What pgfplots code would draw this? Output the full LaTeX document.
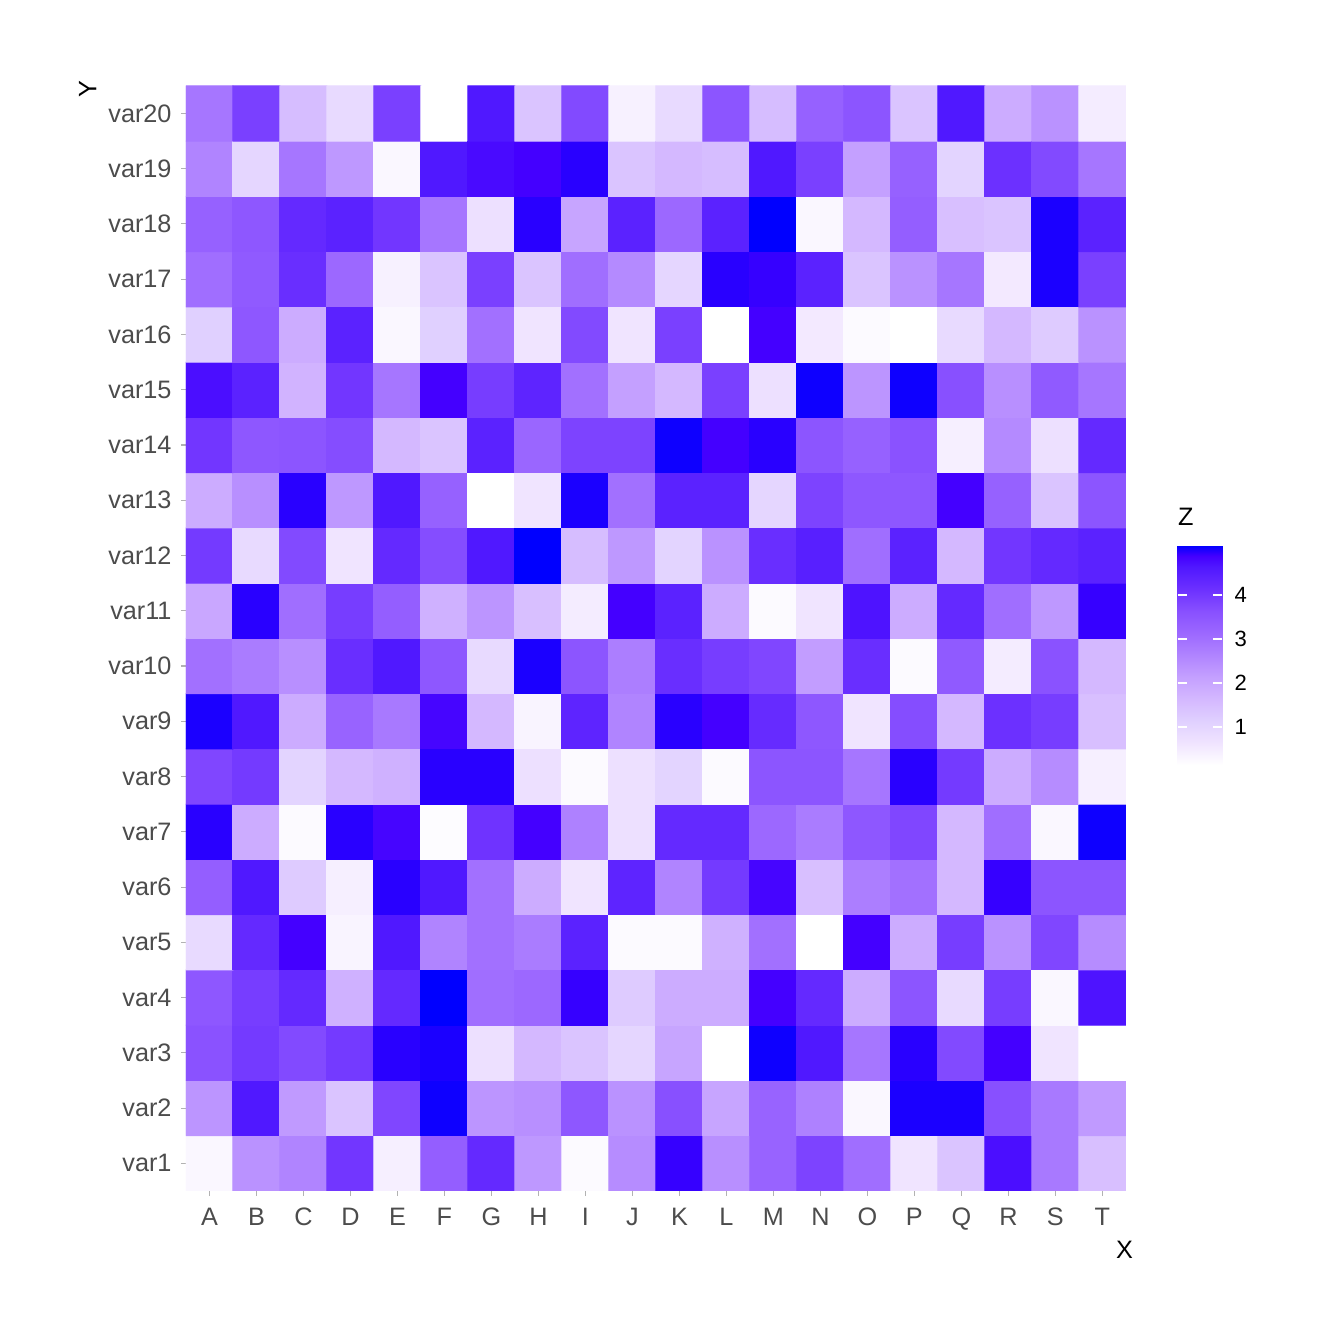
\documentclass[border=0pt]{standalone}
\usepackage{fontspec}
\setmainfont{Liberation Sans}
\usepackage{pgfplots}
\pgfplotsset{compat=1.18}

\pgfplotsset{
  colormap={whiteblue}{
    rgb255(0cm)=(255,255,255) rgb255(1cm)=(240,228,255) rgb255(2cm)=(224,208,255)
    rgb255(3cm)=(212,184,255) rgb255(4cm)=(196,160,255) rgb255(5cm)=(176,132,255)
    rgb255(6cm)=(156,104,255) rgb255(7cm)=(136,80,255) rgb255(8cm)=(108,48,255)
    rgb255(9cm)=(80,24,255) rgb255(9.5cm)=(68,0,255) rgb255(10cm)=(0,0,255)
  }
}

\begin{document}
\begin{tikzpicture}
\useasboundingbox (0,0) rectangle (505.9pt,505.9pt);
\begin{axis}[
    at={(70.0pt,57.6pt)}, anchor=south west,
    scale only axis, width=353.8pt, height=416.0pt,
    xmin=-0.5, xmax=19.5, ymin=-0.5, ymax=19.5,
    axis line style={draw=none},
    xtick={0,...,19},
    xticklabels={A,B,C,D,E,F,G,H,I,J,K,L,M,N,O,P,Q,R,S,T},
    ytick={0,...,19},
    yticklabels={var1,var2,var3,var4,var5,var6,var7,var8,var9,var10,
                 var11,var12,var13,var14,var15,var16,var17,var18,var19,var20},
    tick align=outside, major tick length=1.9pt,
    tick style={black!30, line width=0.4pt},
    xtick pos=bottom, ytick pos=left,
    ticklabel style={font=\fontsize{9.5}{11}\selectfont, text=black!70},
    xticklabel style={yshift=-1pt},
    xlabel={X}, ylabel={Y},
    label style={font=\fontsize{9.5}{11}\selectfont},
    xlabel style={at={(axis description cs:1.008,-0.045)}, anchor=north east, inner sep=0pt},
    ylabel style={at={(axis description cs:-0.0947,1.0054)}, anchor=south east, inner sep=0pt},
    colormap name=whiteblue,
    point meta min=0.14, point meta max=5.14,
    colorbar,
    colorbar/width=16.9pt,
    colorbar style={
        at={(parent axis.south east)}, anchor=south west,
        xshift=10.9pt, yshift=160.3pt,
        height=82.8pt,
        ytick={1,2,3,4},
        yticklabel pos=right, ytick pos=both,
        tick align=inside, major tick length=3.4pt,
        ytick style={white, line width=0.6pt},
        axis line style={draw=none},
        /pgf/number format/assume math mode=true,
        yticklabel style={font=\fontsize{8.3}{9}\selectfont, text=black, xshift=1.1pt},
        title={Z},
        title style={at={(0,1)}, anchor=south west, inner sep=0pt, yshift=1.2pt,
                     font=\fontsize{9.5}{11}\selectfont},
    },
]
\addplot[matrix plot*, mesh/cols=20, mesh/rows=20, point meta=explicit] coordinates {
(0,0)[0.29] (1,0)[2.39] (2,0)[2.64] (3,0)[4.04] (4,0)[0.44] (5,0)[3.34] (6,0)[4.29] (7,0)[2.29] (8,0)[0.24] (9,0)[2.49] (10,0)[4.94] (11,0)[2.44] (12,0)[3.24] (13,0)[3.84] (14,0)[3.04] (15,0)[0.64] (16,0)[1.39] (17,0)[4.74] (18,0)[2.84] (19,0)[1.49]

(0,1)[2.34] (1,1)[4.64] (2,1)[2.24] (3,1)[1.39] (4,1)[3.79] (5,1)[5.09] (6,1)[2.34] (7,1)[2.44] (8,1)[3.49] (9,1)[2.39] (10,1)[3.64] (11,1)[2.04] (12,1)[3.24] (13,1)[2.69] (14,1)[0.29] (15,1)[5.04] (16,1)[5.04] (17,1)[3.64] (18,1)[2.84] (19,1)[2.24]

(0,2)[3.59] (1,2)[3.99] (2,2)[3.74] (3,2)[3.99] (4,2)[4.99] (5,2)[5.04] (6,2)[0.74] (7,2)[1.64] (8,2)[1.39] (9,2)[0.99] (10,2)[2.04] (11,2)[0.14] (12,2)[5.09] (13,2)[4.64] (14,2)[2.89] (15,2)[4.99] (16,2)[3.74] (17,2)[4.89] (18,2)[0.64] (19,2)[0.14]

(0,3)[3.49] (1,3)[3.94] (2,3)[4.29] (3,3)[1.79] (4,3)[4.29] (5,3)[5.14] (6,3)[3.04] (7,3)[3.14] (8,3)[4.94] (9,3)[1.24] (10,3)[1.89] (11,3)[1.89] (12,3)[4.89] (13,3)[4.29] (14,3)[1.89] (15,3)[3.54] (16,3)[0.89] (17,3)[3.94] (18,3)[0.29] (19,3)[4.69]

(0,4)[0.89] (1,4)[4.29] (2,4)[4.89] (3,4)[0.34] (4,4)[4.64] (5,4)[2.64] (6,4)[2.99] (7,4)[2.79] (8,4)[4.44] (9,4)[0.24] (10,4)[0.24] (11,4)[1.79] (12,4)[2.99] (13,4)[0.14] (14,4)[4.89] (15,4)[1.89] (16,4)[3.94] (17,4)[2.39] (18,4)[3.79] (19,4)[2.49]

(0,5)[3.34] (1,5)[4.64] (2,5)[1.24] (3,5)[0.44] (4,5)[4.99] (5,5)[4.64] (6,5)[2.99] (7,5)[1.89] (8,5)[0.64] (9,5)[4.39] (10,5)[2.64] (11,5)[3.99] (12,5)[4.84] (13,5)[1.49] (14,5)[2.74] (15,5)[2.99] (16,5)[1.64] (17,5)[4.94] (18,5)[3.54] (19,5)[3.54]

(0,6)[4.99] (1,6)[1.89] (2,6)[0.24] (3,6)[4.99] (4,6)[4.84] (5,6)[0.19] (6,6)[4.09] (7,6)[4.89] (8,6)[2.69] (9,6)[0.74] (10,6)[4.29] (11,6)[4.29] (12,6)[3.14] (13,6)[2.79] (14,6)[3.49] (15,6)[3.79] (16,6)[1.64] (17,6)[3.04] (18,6)[0.29] (19,6)[5.09]

(0,7)[3.79] (1,7)[3.99] (2,7)[1.04] (3,7)[1.64] (4,7)[1.79] (5,7)[4.99] (6,7)[4.99] (7,7)[0.74] (8,7)[0.24] (9,7)[0.74] (10,7)[1.04] (11,7)[0.24] (12,7)[3.54] (13,7)[3.54] (14,7)[2.89] (15,7)[4.99] (16,7)[3.99] (17,7)[1.89] (18,7)[2.49] (19,7)[0.44]

(0,8)[5.04] (1,8)[4.64] (2,8)[1.89] (3,8)[3.24] (4,8)[2.84] (5,8)[4.84] (6,8)[1.64] (7,8)[0.34] (8,8)[4.39] (9,8)[2.64] (10,8)[4.99] (11,8)[4.89] (12,8)[4.24] (13,8)[3.49] (14,8)[0.64] (15,8)[3.69] (16,8)[1.64] (17,8)[4.14] (18,8)[3.94] (19,8)[1.49]

(0,9)[2.99] (1,9)[2.79] (2,9)[2.44] (3,9)[4.19] (4,9)[4.64] (5,9)[3.49] (6,9)[0.89] (7,9)[5.04] (8,9)[3.54] (9,9)[2.74] (10,9)[4.19] (11,9)[3.94] (12,9)[3.79] (13,9)[2.19] (14,9)[4.19] (15,9)[0.24] (16,9)[3.44] (17,9)[0.49] (18,9)[3.59] (19,9)[1.64]

(0,10)[1.99] (1,10)[4.99] (2,10)[3.04] (3,10)[3.94] (4,10)[3.34] (5,10)[1.79] (6,10)[2.34] (7,10)[1.49] (8,10)[0.49] (9,10)[4.89] (10,10)[4.44] (11,10)[1.89] (12,10)[0.24] (13,10)[0.64] (14,10)[4.69] (15,10)[1.89] (16,10)[4.29] (17,10)[3.04] (18,10)[2.29] (19,10)[4.94]

(0,11)[3.99] (1,11)[0.89] (2,11)[3.74] (3,11)[0.64] (4,11)[4.29] (5,11)[3.69] (6,11)[4.64] (7,11)[5.14] (8,11)[1.54] (9,11)[2.29] (10,11)[1.04] (11,11)[2.39] (12,11)[4.19] (13,11)[4.49] (14,11)[3.04] (15,11)[4.44] (16,11)[1.64] (17,11)[4.04] (18,11)[4.29] (19,11)[4.44]

(0,12)[1.89] (1,12)[2.44] (2,12)[4.99] (3,12)[2.29] (4,12)[4.64] (5,12)[3.29] (6,12)[0.14] (7,12)[0.64] (8,12)[5.04] (9,12)[2.99] (10,12)[4.44] (11,12)[4.44] (12,12)[0.99] (13,12)[3.84] (14,12)[3.49] (15,12)[3.49] (16,12)[4.89] (17,12)[3.29] (18,12)[1.39] (19,12)[3.54]

(0,13)[4.04] (1,13)[3.49] (2,13)[3.54] (3,13)[3.69] (4,13)[1.64] (5,13)[1.39] (6,13)[4.44] (7,13)[3.19] (8,13)[3.84] (9,13)[3.84] (10,13)[5.09] (11,13)[4.89] (12,13)[4.99] (13,13)[3.54] (14,13)[3.29] (15,13)[3.59] (16,13)[0.44] (17,13)[2.54] (18,13)[0.74] (19,13)[4.29]

(0,14)[4.74] (1,14)[4.44] (2,14)[1.74] (3,14)[4.04] (4,14)[2.89] (5,14)[4.89] (6,14)[3.94] (7,14)[4.39] (8,14)[2.99] (9,14)[2.14] (10,14)[1.64] (11,14)[3.89] (12,14)[0.74] (13,14)[5.09] (14,14)[2.34] (15,14)[5.09] (16,14)[3.64] (17,14)[2.44] (18,14)[3.44] (19,14)[2.89]

(0,15)[1.14] (1,15)[3.49] (2,15)[1.89] (3,15)[4.44] (4,15)[0.29] (5,15)[1.14] (6,15)[2.99] (7,15)[0.64] (8,15)[3.74] (9,15)[0.64] (10,15)[3.89] (11,15)[0.14] (12,15)[4.89] (13,15)[0.54] (14,15)[0.24] (15,15)[0.14] (16,15)[0.89] (17,15)[1.64] (18,15)[1.24] (19,15)[2.39]

(0,16)[3.04] (1,16)[3.44] (2,16)[4.19] (3,16)[3.14] (4,16)[0.39] (5,16)[1.39] (6,16)[3.89] (7,16)[1.39] (8,16)[3.04] (9,16)[2.54] (10,16)[0.99] (11,16)[4.99] (12,16)[4.94] (13,16)[4.44] (14,16)[1.39] (15,16)[2.39] (16,16)[2.89] (17,16)[0.54] (18,16)[5.04] (19,16)[3.89]

(0,17)[3.29] (1,17)[3.49] (2,17)[4.29] (3,17)[4.44] (4,17)[4.04] (5,17)[2.89] (6,17)[0.74] (7,17)[4.99] (8,17)[2.04] (9,17)[4.44] (10,17)[3.14] (11,17)[4.44] (12,17)[5.14] (13,17)[0.29] (14,17)[1.64] (15,17)[3.34] (16,17)[1.49] (17,17)[1.39] (18,17)[5.04] (19,17)[4.44]

(0,18)[2.64] (1,18)[0.99] (2,18)[2.89] (3,18)[2.29] (4,18)[0.29] (5,18)[4.64] (6,18)[4.79] (7,18)[4.89] (8,18)[4.99] (9,18)[1.39] (10,18)[1.64] (11,18)[1.54] (12,18)[4.64] (13,18)[3.89] (14,18)[2.14] (15,18)[3.29] (16,18)[1.04] (17,18)[4.14] (18,18)[3.74] (19,18)[2.89]

(0,19)[2.89] (1,19)[3.89] (2,19)[1.54] (3,19)[0.89] (4,19)[3.89] (5,19)[0.14] (6,19)[4.64] (7,19)[1.39] (8,19)[3.74] (9,19)[0.39] (10,19)[0.89] (11,19)[3.54] (12,19)[1.54] (13,19)[3.29] (14,19)[3.54] (15,19)[1.39] (16,19)[4.64] (17,19)[1.89] (18,19)[2.39] (19,19)[0.49]
};
\end{axis}
\end{tikzpicture}
\end{document}
